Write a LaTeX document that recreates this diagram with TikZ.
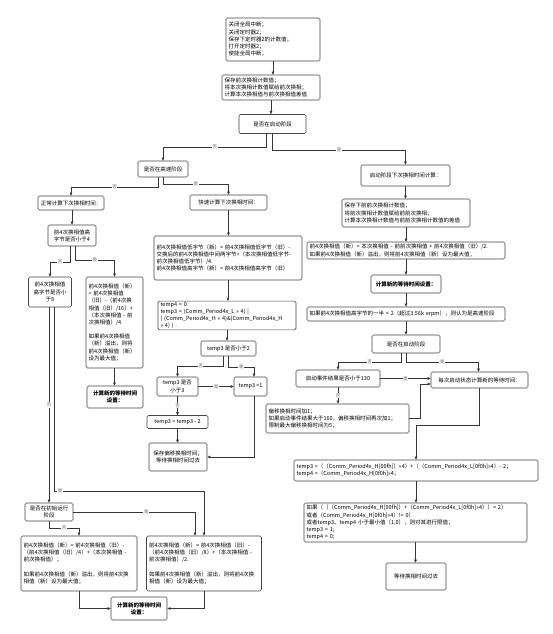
\documentclass[tikz,border=0pt]{standalone}
\usepackage{fontspec}
\setmainfont{Noto Sans CJK SC}
\usetikzlibrary{arrows.meta}
\definecolor{LineGray}{RGB}{55,55,55}
\definecolor{BoxGray}{RGB}{70,70,70}
\definecolor{LblGray}{RGB}{100,100,100}

\begin{document}
\begin{tikzpicture}[x=1pt,y=-1pt,
  box/.style={draw=BoxGray,line width=0.6pt,rounded corners=1.5pt,fill=white,inner xsep=2.5pt,inner ysep=1pt,font=\fontsize{5.5}{7.2}\selectfont,align=center},
  lbox/.style={box,align=left,text width=#1},
  bbox/.style={box,font=\fontsize{5.5}{7.2}\selectfont\bfseries},
  arr/.style={draw=LineGray,line width=0.55pt,-{Triangle[length=3pt,width=2.6pt]}},
  lbl/.style={fill=white,inner sep=0.6pt,font=\fontsize{4.5}{5}\selectfont,text=LblGray}]
\fill[white](0,0) rectangle (552,634);
\useasboundingbox (0,0) rectangle (552,634);

% top: interrupt entry
\node[lbox=89,minimum height=43](nIntr)at(273,39.5){关闭全局中断；\\关闭定时器2；\\保存下定时器2的计数值；\\打开定时器2；\\使能全局中断；};
\node[lbox=93,minimum height=25](nSave)at(271,87.5){保存前次换相计数值；\\将本次换相计数值赋给前次换相；\\计算本次换相值与前次换相值差值};
\node[box,minimum width=67,minimum height=19](nStart)at(272.5,124){是否在启动阶段};

% left: normal / fast run
\node[box,minimum width=50,minimum height=16](nHigh)at(163,169){是否在高速阶段};
\node[box,minimum width=66,minimum height=14](nNorm)at(71,203){正常计算下次换相时间：};
\node[box,minimum width=48,minimum height=21](nLess4)at(72,235.5){前4次换相值高\\字节是否小于4};
\node[box,minimum width=43,minimum height=30](nLess8)at(50,292){前4次换相值\\高字节是否小\\于8};
\node[lbox=52,minimum height=91](nDiv16)at(114.5,322.5){前4次换相值（新）\\= 前4次换相值\\（旧）-（前4次换\\相值（旧）/16）+\\（本次换相值 - 前\\次换相值）/4.\\[7pt]如果前4次换相值\\（新）溢出，则将\\前4次换相值（新）\\设为最大值；};
\node[bbox,minimum width=56,minimum height=22](nWait1)at(115,397){计算新的等待时间\\设置：};
\node[box,minimum width=48,minimum height=18](nInit)at(49,512){是否在初始运行\\阶段};
\node[lbox=111,minimum height=55](nDiv4)at(79,563.5){前4次换相值（新）= 前4次换相值（旧）-\\（前4次换相值（旧）/4）+（本次换相值 -\\前次换相值）；\\[7pt]如果前4次换相值（新）溢出，则将前4次换\\相值（新）设为最大值；};
\node[lbox=110,minimum height=55](nDiv8)at(204,563.5){前4次换相值（新）= 前4次换相值（旧）-\\（前4次换相值（旧）/8）+（本次换相值 -\\前次换相值）/2.\\[7pt]如果前4次换相值（新）溢出，则将前4次换\\相值（新）设为最大值；};
\node[bbox,minimum width=56,minimum height=23](nWait2)at(139,608.5){计算新的等待时间\\设置：};

\node[box,minimum width=77,minimum height=15](nFast)at(228.5,202.5){快速计算下次换相时间：};
\node[lbox=143,minimum height=44](nFastCalc)at(228,258){前4次换相值低字节（新）= 前4次换相值低字节（旧）-\\交换后的前4次换相值中间两字节+（本次换相值低字节-\\前次换相值低字节）/4.\\前4次换相值高字节（新）= 前4次换相值高字节（旧）};
\node[lbox=133,minimum height=28](nTemp)at(227,315.5){\mbox{temp4 = 0.}\\\mbox{temp3 = (Comm\_Period4x\_L >> 4) |}\\\mbox{( (Comm\_Period4x\_H << 4)\&(Comm\_Period4x\_H}\\\mbox{>> 4) ) .}};
\node[box,minimum width=55,minimum height=15](nLt2)at(228.5,348.5){temp3 是否小于2};
\node[box,minimum width=41,minimum height=19](nLt3)at(177.5,386.5){temp3 是否\\小于3};
\node[box,minimum width=33,minimum height=19](nOne)at(250.5,386.5){temp3 =1};
\node[box,minimum width=61,minimum height=13](nSub)at(177.5,422){temp3 = temp3 - 2};
\node[box,minimum width=58,minimum height=28](nKeep)at(178,457){保存偏移换相时间；\\等待换相时间过去};

% right: start-up phase
\node[box,minimum width=89,minimum height=21](nSC)at(405.5,175.5){启动阶段下次换相时间计算：};
\node[lbox=123,minimum height=28](nSC2)at(406,213){保存下前前次换相计数值；\\将前次换相计数值赋给前前次换相；\\计算本次换相计数值与前前次换相计数值的差值};
\node[lbox=193,minimum height=17](nSC3)at(406,250.5){前4次换相值（新）= 本次换相值 - 前前次换相值 + 前4次换相值（旧）/2.\\如果前4次换相值（新）溢出，则将前4次换相值（新）设为最大值；};
\node[bbox,minimum width=70,minimum height=18](nWait3)at(406,284){计算新的等待时间设置：};
\node[lbox=193,minimum height=14](nHalf)at(406,314){如果前4次换相值高字节的一半 < 2（超过3.56k erpm），则认为是高速阶段};
\node[box,minimum width=68,minimum height=18](nStart2)at(406,344){是否在启动阶段};
\node[box,minimum width=84,minimum height=17](nEvt)at(338,378.5){启动事件结果是否小于130};
\node[box,minimum width=97,minimum height=16](nEach)at(479.5,380){每次启动状态计算新的等待时间：};
\node[lbox=138,minimum height=29](nInc)at(337.5,418.5){偏移换相时间加1；\\如果启动事件结果大于160，偏移换相时间再次加1；\\限制最大偏移换相时间为5；};
\node[lbox=239,minimum height=21](nT34)at(416,470.5){temp3 =（（Comm\_Period4x\_H[00fh]）<<4）+（（Comm\_Period4x\_L[0f0h]>>4）- 2；\\temp4 =（Comm\_Period4x\_H[0f0h]>>4；};
\node[lbox=218,minimum height=39](nLimit)at(415.5,522.5){如果（（（Comm\_Period4x\_H[00fh]）+（Comm\_Period4x\_L[0f0h]>>4））< 2）\\或者（Comm\_Period4x\_H[0f0h]>>4）!= 0）\\或者temp3、temp4 小于最小值（1,0），则对其进行限值；\\temp3 = 1;\\temp4 = 0;};
\node[box,minimum width=60,minimum height=27](nDone)at(416,576.5){等待换相时间过去};

% connectors
\draw[arr](nIntr.south)--(nIntr.south|-nSave.north);
\draw[arr](nSave.south)--(nSave.south|-nStart.north);
\draw[arr]([xshift=-6pt]nStart.south)--++(0,13)-|(nHigh.north)node[lbl,pos=0.25]{否};
\draw[arr](nStart.south)--++(0,16)-|(nSC.north)node[lbl,pos=0.25]{是};
\draw[arr]([xshift=-5pt]nHigh.south)--++(0,10)-|(nNorm.north)node[lbl,pos=0.25]{否};
\draw[arr](nHigh.south)--++(0,7)-|(nFast.north)node[lbl,pos=0.25]{是};
\draw[arr](nLess4.north|-nNorm.south)--(nLess4.north);
\draw[arr]([xshift=-2pt]nLess4.south)--++(0,16)-|(nLess8.north)node[lbl,pos=0.25]{否};
\draw[arr]([xshift=3pt]nLess4.south)--++(0,14)-|(nDiv16.north)node[lbl,pos=0.25]{是};
\draw[arr](nDiv16.south)--(nDiv16.south|-nWait1.north);
\draw[arr]([xshift=-1pt]nLess8.south)--([xshift=-1pt]nLess8.south|-nInit.north)node[lbl,pos=0.5]{否};
\draw[arr]([xshift=4pt]nLess8.south)--++(0,184)--++(6,0)node[lbl]{是}-|(nDiv8.north);
\draw[arr](nInit.east)-|([xshift=-9pt]nDiv8.north)node[lbl,pos=0.3]{是};
\draw[arr](nInit.south)--++(0,7)-|(nDiv4.north)node[lbl,pos=0.25]{否};
\draw[arr](nDiv4.south)|-(nWait2.west);
\draw[arr](nDiv8.south)|-(nWait2.east);
\draw[arr](nFast.south)--(nFast.south|-nFastCalc.north);
\draw[arr](nFastCalc.south)--(nFastCalc.south|-nTemp.north);
\draw[arr](nTemp.south)--(nTemp.south|-nLt2.north);
\draw[arr]([xshift=-5pt]nLt2.south)--++(0,10)-|(nLt3.north)node[lbl,pos=0.25]{否};
\draw[arr](nLt2.south)--++(0,11)-|([xshift=3.5pt]nOne.north)node[lbl,pos=0.25]{是};
\draw[arr](nLt3.east)--(nLt3.east-|nOne.west)node[lbl,midway]{是};
\draw[arr](nLt3.south)--(nLt3.south|-nSub.north)node[lbl,midway]{否};
\draw[arr](nSub.south)--(nSub.south|-nKeep.north);
\draw[arr]([xshift=3.5pt]nOne.south)|-(nKeep.east);
\draw[arr](nSC.south)--(nSC.south|-nSC2.north);
\draw[arr](nSC2.south)--(nSC2.south|-nSC3.north);
\draw[arr](nSC3.south)--(nSC3.south|-nWait3.north);
\draw[arr](nWait3.south)--(nWait3.south|-nHalf.north);
\draw[arr](nHalf.south)--(nHalf.south|-nStart2.north);
\draw[arr]([xshift=-5pt]nStart2.south)--++(0,9)-|(nEvt.north)node[lbl,pos=0.25]{否};
\draw[arr](nStart2.south)--++(0,9)-|([xshift=-1pt]nEach.north)node[lbl,pos=0.25]{是};
\draw[arr](nEvt.east)--(nEvt.east-|nEach.west)node[lbl,midway]{是};
\draw[arr](nEvt.south)--(nEvt.south|-nInc.north)node[lbl,midway]{否};
\draw[arr](nInc.east)--++(11,0)|-([yshift=-4pt]nEach.west);
\draw[arr](nEach.south)--++(0,37)-|(nT34.north);
\draw[arr](nT34.south)--(nT34.south|-nLimit.north);
\draw[arr](nLimit.south)--(nLimit.south|-nDone.north);
\end{tikzpicture}
\end{document}
